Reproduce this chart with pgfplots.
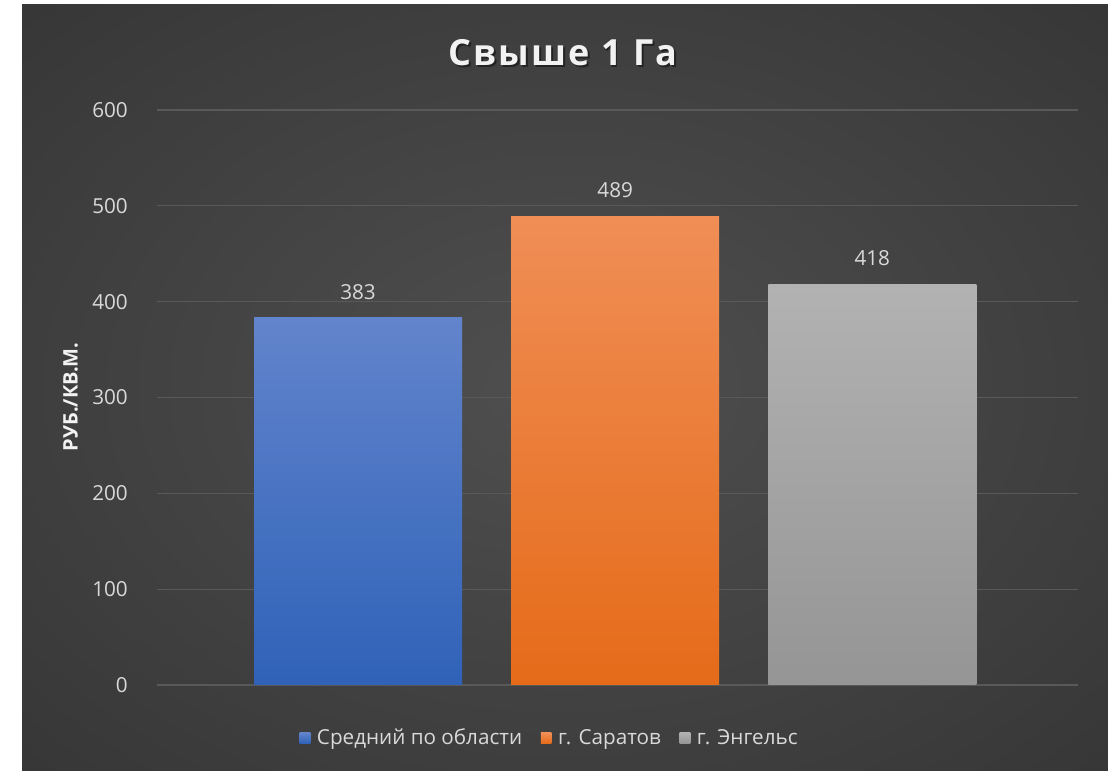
\documentclass[border=0pt]{standalone}
\usepackage{fontspec}
\setmainfont{Open Sans}
\newfontfamily\titlefont[LetterSpace=6]{Open Sans}
\usepackage{pgfplots}
\pgfplotsset{compat=1.18}
\definecolor{tickc}{HTML}{D9D9D9}
\definecolor{gridc}{HTML}{595959}
\definecolor{btop}{HTML}{6284CC}
\definecolor{bbot}{HTML}{2F62B8}
\definecolor{otop}{HTML}{F08E56}
\definecolor{obot}{HTML}{E56B19}
\definecolor{gtop}{HTML}{B2B2B2}
\definecolor{gbot}{HTML}{959595}
\pgfdeclareradialshading{bgshade}{\pgfpoint{0bp}{0bp}}{rgb(0bp)=(0.31,0.31,0.31); rgb(50bp)=(0.175,0.175,0.175); rgb(72bp)=(0.15,0.15,0.15)}
\begin{document}
\begin{tikzpicture}
\fill[white] (0,0) rectangle (831pt,578.25pt);
\shade[shading=bgshade] (16.5pt,0) rectangle (831pt,574.5pt);
\begin{axis}[
  at={(117.75pt,64.5pt)}, anchor=south west,
  scale only axis, width=690.75pt, height=431.25pt,
  xmin=-0.782, xmax=2.80, ymin=0, ymax=600,
  ytick={0,100,...,600}, xtick=\empty,
  axis line style={draw=none},
  major tick length=0pt,
  ymajorgrids, grid style={gridc, line width=0.9pt},
  /pgf/number format/assume math mode=true,
  yticklabel style={font=\fontsize{15.5pt}{18pt}\selectfont, text=tickc, anchor=east, inner sep=0pt, xshift=-21.75pt},
  ybar, bar width=156pt, bar shift=0pt,
  nodes near coords,
  every node near coord/.append style={font=\fontsize{15.5pt}{18pt}\selectfont, text=tickc, anchor=south, inner sep=0pt, yshift=13.5pt},
  legend columns=3,
  legend style={draw=none, fill=none, at={(0.4267,-0.0922)}, anchor=center,
    font=\fontsize{15.5pt}{18pt}\selectfont, text=tickc,
    /tikz/every odd column/.append style={column sep=3pt},
    /tikz/every even column/.append style={column sep=12pt},
    inner sep=0pt},
  legend image code/.code={\path[#1, draw=none] (0pt,-4pt) rectangle (8pt,4pt);},
]
\addplot[draw=none, top color=btop, bottom color=bbot] coordinates {(0,383)};
\addlegendentry{Средний по области}
\addplot[draw=none, top color=otop, bottom color=obot] coordinates {(1,489)};
\addlegendentry{г. Саратов}
\addplot[draw=none, top color=gtop, bottom color=gbot] coordinates {(2,418)};
\addlegendentry{г. Энгельс}
\end{axis}
\node[text=black, opacity=0.45, font=\titlefont\bfseries\fontsize{27pt}{32pt}\selectfont] at (423.5pt,537pt) {Свыше 1 Га};
\node[text=white!95!black, font=\titlefont\bfseries\fontsize{27pt}{32pt}\selectfont] at (422.25pt,538.5pt) {Свыше 1 Га};
\node[rotate=90, text=white!95!black, font=\bfseries\fontsize{15pt}{18pt}\selectfont] at (52.9pt,280.5pt) {РУБ./КВ.М.};
\end{tikzpicture}
\end{document}
